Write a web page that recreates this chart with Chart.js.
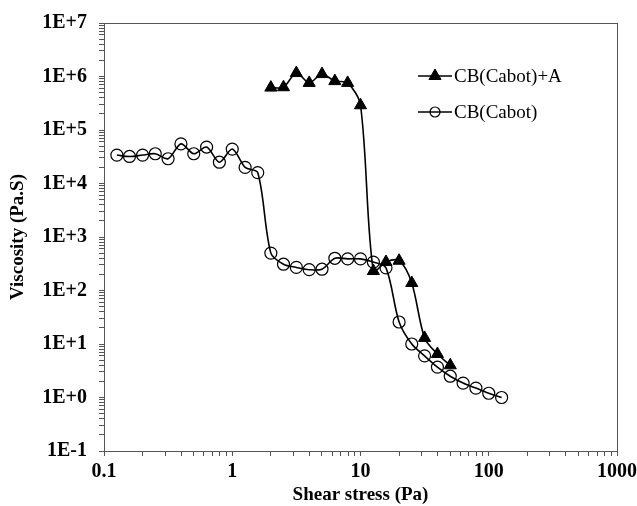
<!DOCTYPE html>
<html>
<head>
<meta charset="utf-8">
<script src="https://cdn.jsdelivr.net/npm/chart.js@4.4.1/dist/chart.umd.min.js"></script>
<style>
  body { margin: 0; background: #fff; }
  #wrap { width: 637px; height: 506px; position: relative; }
</style>
</head>
<body>
<div id="wrap"><canvas id="chart"></canvas></div>
<script>
// shear stress (Pa) and viscosity (Pa.S)
const stressA = [2, 2.51, 3.16, 3.98, 5.01, 6.31, 7.94, 10, 12.6, 15.8, 20, 25.1, 31.6, 39.8, 50.1];
const viscA = [6.2e5, 6.3e5, 1.16e6, 7.6e5, 1.11e6, 8.2e5, 7.6e5, 2.9e5, 231, 341, 360, 138, 13, 6.5, 4.0];

const stressB = [0.126, 0.158, 0.2, 0.251, 0.316, 0.398, 0.501, 0.631, 0.794, 1, 1.26, 1.58,
                 2, 2.51, 3.16, 3.98, 5.01, 6.31, 7.94, 10, 12.6, 15.8,
                 20, 25.1, 31.6, 39.8, 50.1, 63.1, 79.4, 100, 126];
const viscB = [3.4e4, 3.2e4, 3.4e4, 3.6e4, 2.9e4, 5.5e4, 3.6e4, 4.8e4, 2.5e4, 4.4e4, 2.0e4, 1.6e4,
               500, 310, 270, 245, 250, 400, 390, 390, 340, 265,
               25.8, 10, 6.0, 3.7, 2.5, 1.86, 1.5, 1.2, 1.0];

const seriesLabels = ['CB(Cabot)+A', 'CB(Cabot)'];
const xTickLabels = ['0.1', '1', '10', '100', '1000'];
const yTickLabels = ['1E-1', '1E+0', '1E+1', '1E+2', '1E+3', '1E+4', '1E+5', '1E+6', '1E+7'];

const AXIS = '#555';
const FONT = 'Liberation Serif, Times New Roman, serif';

function logTicks(minExp, maxExp) {
    const out = [];
    for (let e = minExp; e <= maxExp; e++) {
        for (let s = 1; s <= 9; s++) {
            if (e === maxExp && s > 1) break;
            out.push({ value: s * Math.pow(10, e), major: s === 1 });
        }
    }
    return out;
}

function majorLabel(labels, minExp) {
    return function (value) {
        const e = Math.log10(value);
        if (Math.abs(e - Math.round(e)) > 1e-6) return '';
        return labels[Math.round(e) - minExp];
    };
}

const frame = {
    id: 'frame',
    afterDatasetsDraw(chart) {
        const a = chart.chartArea, ctx = chart.ctx;
        ctx.save();
        ctx.strokeStyle = AXIS;
        ctx.lineWidth = 1;
        ctx.strokeRect(a.left + 0.5, a.top + 0.5, a.right - a.left, a.bottom - a.top);
        ctx.restore();
    }
};

const legendBox = {
    id: 'legendBox',
    afterDraw(chart) {
        const a = chart.chartArea, ctx = chart.ctx;
        ctx.save();
        chart.data.datasets.forEach((ds, i) => {
            const y = a.top + 53 + i * 36;
            const x0 = a.left + 314, x1 = a.left + 348;
            ctx.strokeStyle = '#000';
            ctx.lineWidth = 1.6;
            ctx.beginPath();
            ctx.moveTo(x0, y);
            ctx.lineTo(x1, y);
            ctx.stroke();
            ctx.fillStyle = ds.pointBackgroundColor;
            ctx.strokeStyle = ds.pointBorderColor;
            ctx.lineWidth = ds.pointBorderWidth;
            Chart.helpers.drawPoint(ctx, {
                pointStyle: ds.pointStyle, radius: ds.pointRadius - (i ? 1 : 0),
                borderWidth: ds.pointBorderWidth, rotation: 0
            }, (x0 + x1) / 2, y);
            ctx.fillStyle = '#000';
            ctx.font = '19px ' + FONT;
            ctx.textAlign = 'left';
            ctx.textBaseline = 'middle';
            ctx.fillText(ds.label, x1 + 2, y + 1);
        });
        ctx.restore();
    }
};

new Chart(document.getElementById('chart'), {
    type: 'line',
    data: {
        datasets: [{
            label: seriesLabels[0],
            data: stressA.map((x, i) => ({ x: x, y: viscA[i] })),
            borderColor: '#000',
            borderWidth: 1.6,
            tension: 0.3,
            pointStyle: 'triangle',
            pointRadius: 7,
            pointBackgroundColor: '#000',
            pointBorderColor: '#000',
            pointBorderWidth: 1
        }, {
            label: seriesLabels[1],
            data: stressB.map((x, i) => ({ x: x, y: viscB[i] })),
            borderColor: '#000',
            borderWidth: 1.6,
            tension: 0.3,
            pointStyle: 'circle',
            pointRadius: 6,
            pointBackgroundColor: 'rgba(0,0,0,0)',
            pointBorderColor: '#000',
            pointBorderWidth: 1.2
        }]
    },
    options: {
        responsive: true,
        maintainAspectRatio: false,
        animation: false,
        layout: { padding: { top: 23, right: 20, left: 0, bottom: 0 } },
        plugins: { legend: { display: false }, tooltip: { enabled: false } },
        scales: {
            x: {
                type: 'logarithmic',
                min: 0.1, max: 1000,
                afterBuildTicks: s => { s.ticks = logTicks(-1, 3); },
                afterFit: s => { s.height = 55; s.paddingLeft = 0; s.paddingRight = 0; },
                grid: { drawOnChartArea: false, drawTicks: true, tickLength: 5, color: AXIS },
                border: { display: true, color: AXIS, width: 1 },
                ticks: {
                    autoSkip: false, maxRotation: 0, minRotation: 0, padding: 4,
                    color: '#000', font: { family: FONT, size: 20, weight: 'bold' },
                    callback: majorLabel(xTickLabels, -1)
                },
                title: {
                    display: true, text: 'Shear stress (Pa)', color: '#000',
                    font: { family: FONT, size: 19, weight: 'bold' }, padding: 0
                }
            },
            y: {
                type: 'logarithmic',
                min: 0.1, max: 1e7,
                afterBuildTicks: s => { s.ticks = logTicks(-1, 7); },
                afterFit: s => { s.width = 104; s.paddingTop = 0; s.paddingBottom = 0; },
                grid: { drawOnChartArea: false, drawTicks: true, tickLength: 5, color: AXIS },
                border: { display: true, color: AXIS, width: 1 },
                ticks: {
                    autoSkip: false, padding: 12,
                    color: '#000', font: { family: FONT, size: 20, weight: 'bold' },
                    callback: majorLabel(yTickLabels, -1)
                },
                title: {
                    display: true, text: 'Viscosity (Pa.S)', color: '#000',
                    font: { family: FONT, size: 19, weight: 'bold' }, padding: { top: 7, bottom: 7 }
                }
            }
        }
    },
    plugins: [frame, legendBox]
});
</script>
</body>
</html>
